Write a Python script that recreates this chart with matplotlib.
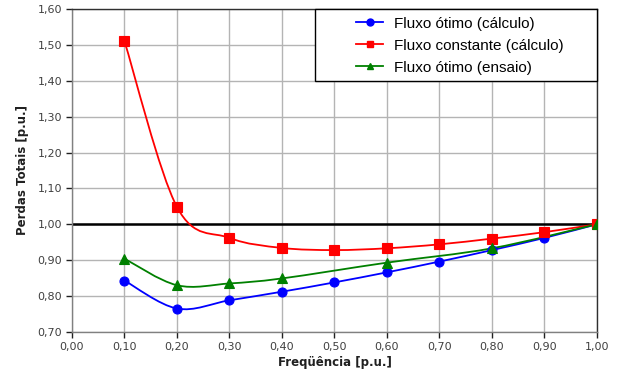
import matplotlib
matplotlib.use("Agg")
import matplotlib.pyplot as plt
from matplotlib.path import Path
from matplotlib.patches import PathPatch, Rectangle
from matplotlib.lines import Line2D
from matplotlib.ticker import FuncFormatter
import numpy as np

freq = [0.1, 0.2, 0.3, 0.4, 0.5, 0.6, 0.7, 0.8, 0.9, 1.0]
otimo_calc = [0.843, 0.765, 0.788, 0.812, 0.838, 0.866, 0.896, 0.928, 0.962, 1.000]
constante_calc = [1.510, 1.048, 0.962, 0.934, 0.928, 0.933, 0.944, 0.960, 0.978, 1.000]
freq_ensaio = [0.1, 0.2, 0.3, 0.4, 0.6, 0.8, 1.0]
otimo_ensaio = [0.904, 0.830, 0.835, 0.849, 0.893, 0.933, 1.000]

labels = ["Fluxo ótimo (cálculo)", "Fluxo constante (cálculo)", "Fluxo ótimo (ensaio)"]
colors = ["#0000ff", "#ff0000", "#008000"]
markers = ["o", "s", "^"]


def smooth_path(x, y):
    # Excel-like smoothed line: cubic bezier segments (Catmull-Rom control points)
    pts = np.column_stack([x, y])
    verts = [pts[0]]
    codes = [Path.MOVETO]
    n = len(pts)
    for i in range(n - 1):
        p0 = pts[i - 1] if i > 0 else pts[i]
        p1 = pts[i]
        p2 = pts[i + 1]
        p3 = pts[i + 2] if i + 2 < n else pts[i + 1]
        c1 = p1 + (p2 - p0) / 6.0
        c2 = p2 - (p3 - p1) / 6.0
        verts += [c1, c2, p2]
        codes += [Path.CURVE4] * 3
    return Path(verts, codes)


fig = plt.figure(figsize=(6.18, 3.75), dpi=100)
ax = fig.add_axes([0.1165, 0.115, 0.8495, 0.861])

ax.axhline(1.0, color="black", lw=1.8, zorder=2)

series = [(freq, otimo_calc), (freq, constante_calc), (freq_ensaio, otimo_ensaio)]
sizes = {"o": 6.5, "s": 7.5, "^": 7.5}
handles = []
for (xs, ys), lab, c, m in zip(series, labels, colors, markers):
    ax.add_patch(PathPatch(smooth_path(xs, ys), fill=False, edgecolor=c, lw=1.3, zorder=3))
    ax.plot(xs, ys, ls="none", marker=m, ms=sizes[m], color=c, mec=c, mew=0.8, zorder=4)
    handles.append(Line2D([], [], color=c, marker=m, ms=5, lw=1.3))

ax.set_xlim(0, 1.0)
ax.set_ylim(0.70, 1.60)
ax.set_xticks(np.arange(0, 1.01, 0.1))
ax.set_yticks(np.arange(0.70, 1.601, 0.1))
fmt = FuncFormatter(lambda v, p: f"{v:.2f}".replace(".", ","))
ax.xaxis.set_major_formatter(fmt)
ax.yaxis.set_major_formatter(fmt)
ax.grid(True, color="#b4b4b4", lw=1.0, zorder=0)
ax.set_axisbelow(True)
ax.tick_params(labelsize=8, labelcolor="#404040", color="#202020", length=4, width=1,
               direction="out", pad=3)
for s in ax.spines.values():
    s.set_color("#303030")
    s.set_linewidth(1.0)
ax.spines["left"].set_color("#808080")
ax.spines["bottom"].set_color("#808080")

ax.set_xlabel("Freqüência [p.u.]", fontsize=8.5, fontweight="bold", color="#202020", labelpad=3)
ax.set_ylabel("Perdas Totais [p.u.]", fontsize=8.5, fontweight="bold", color="#202020", labelpad=6)

# legend box like the original (wide frame, entries offset to the right)
ax.add_patch(Rectangle((0.4629, 0.777), 0.5371, 0.223, transform=ax.transAxes,
                       facecolor="white", edgecolor="black", lw=1.0, zorder=5, clip_on=False))
leg = ax.legend(handles, labels, loc="upper left", bbox_to_anchor=(0.541, 0.976),
                prop={"family": "Liberation Sans", "size": 11}, frameon=False,
                borderpad=0, borderaxespad=0, handlelength=1.77, handletextpad=0.72,
                labelspacing=0.52)
leg.set_zorder(6)

fig.savefig("out.png", dpi=100)
